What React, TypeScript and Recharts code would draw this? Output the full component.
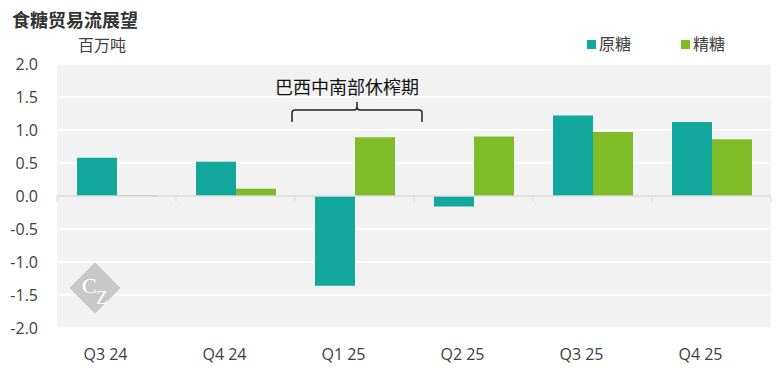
import React from 'react'
import {
  BarChart,
  Bar,
  XAxis,
  YAxis,
  CartesianGrid,
  ReferenceLine,
  ReferenceArea,
} from 'recharts'

const quarters = ['Q3 24', 'Q4 24', 'Q1 25', 'Q2 25', 'Q3 25', 'Q4 25']
const rawSugar = [0.58, 0.52, -1.36, -0.16, 1.22, 1.12]
const whiteSugar = [0.01, 0.11, 0.89, 0.9, 0.97, 0.86]
const yTicks = [-2, -1.5, -1, -0.5, 0, 0.5, 1, 1.5, 2]

const data = quarters.map((q, i) => ({ q, raw: rawSugar[i], white: whiteSugar[i] }))

const TEAL = '#13a89e'
const GREEN = '#80bc28'
const TEXT = '#404040'
const FONT = '"Open Sans", "Noto Sans CJK SC", sans-serif'

function ZeroLine(props: any) {
  const { x1, x2, y1 } = props
  const step = (x2 - x1) / quarters.length
  return (
    <g>
      <line x1={x1} x2={x2} y1={y1} y2={y1} stroke="#d9d9d9" strokeWidth={1.5} />
      {quarters.concat(['']).map((_, i) => (
        <line key={i} x1={x1 + i * step} x2={x1 + i * step} y1={y1} y2={y1 + 6} stroke="#d9d9d9" strokeWidth={1} />
      ))}
    </g>
  )
}

function Brace(props: any) {
  const { x, width } = props
  const l = x - 3
  const r = x + width + 8
  const c = (l + r) / 2
  const top = 110
  return (
    <g>
      <path
        d={`M${l},122 L${l},${top + 3} Q${l},${top} ${l + 3},${top} L${c - 3},${top} Q${c},${top} ${c},${top - 3} L${c},102
            M${c},${top - 3} Q${c},${top} ${c + 3},${top} L${r - 3},${top} Q${r},${top} ${r},${top + 3} L${r},122`}
        fill="none"
        stroke="#222"
        strokeWidth={1.5}
      />
      <text x={c - 10} y={94} textAnchor="middle" fontSize={18} fill="#111" fontFamily={FONT}>
        巴西中南部休榨期
      </text>
    </g>
  )
}

function LegendBox() {
  const items = [
    { name: '原糖', color: TEAL },
    { name: '精糖', color: GREEN },
  ]
  return (
    <div style={{ position: 'absolute', left: 587, top: 32, display: 'flex', gap: 50, fontSize: 16, color: TEXT, lineHeight: '24px' }}>
      {items.map((it) => (
        <div key={it.name} style={{ display: 'flex', alignItems: 'center' }}>
          <span style={{ width: 9, height: 9, background: it.color, marginRight: 3 }} />
          {it.name}
        </div>
      ))}
    </div>
  )
}

export default function App() {
  return (
    <div style={{ position: 'absolute', left: 0, top: 0, width: 783, height: 374, background: '#fff', fontFamily: FONT }}>
      <div style={{ position: 'absolute', left: 12, top: 8, fontSize: 18, fontWeight: 700, color: '#333', lineHeight: '24px' }}>
        食糖贸易流展望
      </div>
      <div style={{ position: 'absolute', left: 78, top: 33, fontSize: 16, color: TEXT, lineHeight: '24px' }}>
        百万吨
      </div>
      <LegendBox />
      <BarChart
        width={783}
        height={374}
        data={data}
        margin={{ top: 64, right: 12, left: 0, bottom: 0 }}
        barGap={0}
        barSize={40}
      >
        <CartesianGrid vertical={false} fill="#f2f2f2" stroke="#fff" strokeWidth={1.5} />
        <XAxis
          dataKey="q"
          height={46}
          tickSize={0}
          tickMargin={21}
          axisLine={false}
          tick={{ fontSize: 16, fill: TEXT, fontFamily: FONT, dx: -11 }}
        />
        <YAxis
          width={57}
          domain={[-2, 2]}
          ticks={yTicks}
          interval={0}
          tickSize={0}
          tickMargin={19}
          axisLine={false}
          tickFormatter={(v: number) => v.toFixed(1)}
          tick={{ fontSize: 16, fill: TEXT, fontFamily: FONT }}
        />
        <Bar dataKey="raw" name="原糖" fill={TEAL} isAnimationActive={false} />
        <Bar dataKey="white" name="精糖" fill={GREEN} isAnimationActive={false} />
        <ReferenceLine y={0} shape={ZeroLine} />
        <ReferenceArea x1="Q1 25" x2="Q1 25" y1={1.3} y2={1.6} shape={Brace} />
      </BarChart>
      <svg width={60} height={60} style={{ position: 'absolute', left: 65, top: 258, pointerEvents: 'none' }}>
        <rect x={12} y={12} width={36} height={36} fill="#c8c8c8" transform="rotate(45 30 30)" />
        <text x={17} y={35} fontSize={22} fill="#fff" fontFamily="'Liberation Serif', serif">C</text>
        <text x={31} y={46} fontSize={19} fill="#fff" fontFamily="'Liberation Serif', serif">Z</text>
      </svg>
    </div>
  )
}
